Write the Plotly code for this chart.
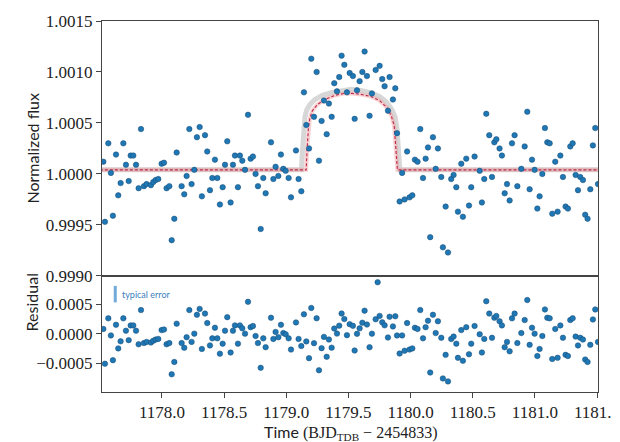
import numpy as np
import plotly.graph_objects as go
from plotly.subplots import make_subplots

# ---------------- data ----------------
time = [
    1177.528, 1177.541, 1177.568, 1177.589, 1177.605, 1177.630, 1177.648, 1177.667, 1177.689, 1177.710,
    1177.732, 1177.748, 1177.769, 1177.791, 1177.812, 1177.831, 1177.855, 1177.876, 1177.911, 1177.930,
    1177.949, 1177.970, 1177.997, 1178.016, 1178.037, 1178.059, 1178.078, 1178.099, 1178.118, 1178.158,
    1178.179, 1178.198, 1178.220, 1178.238, 1178.260, 1178.281, 1178.303, 1178.321, 1178.346, 1178.364,
    1178.386, 1178.405, 1178.426, 1178.445, 1178.466, 1178.488, 1178.507, 1178.525, 1178.552, 1178.571,
    1178.587, 1178.611, 1178.627, 1178.646, 1178.668, 1178.692, 1178.713, 1178.732, 1178.753, 1178.772,
    1178.794, 1178.815, 1178.834, 1178.877, 1178.896, 1178.914, 1178.936, 1178.957, 1178.976, 1178.995,
    1179.019, 1179.038, 1179.078, 1179.099, 1179.121, 1179.142, 1179.161, 1179.183, 1179.201, 1179.223,
    1179.244, 1179.263, 1179.284, 1179.303, 1179.325, 1179.343, 1179.365, 1179.386, 1179.408, 1179.426,
    1179.445, 1179.467, 1179.488, 1179.510, 1179.536, 1179.550, 1179.569, 1179.590, 1179.612, 1179.630,
    1179.649, 1179.670, 1179.689, 1179.719, 1179.735, 1179.751, 1179.772, 1179.791, 1179.818, 1179.831,
    1179.858, 1179.877, 1179.891, 1179.912, 1179.932, 1179.952, 1179.972, 1179.992, 1180.014, 1180.035,
    1180.056, 1180.078, 1180.100, 1180.121, 1180.140, 1180.158, 1180.180, 1180.202, 1180.220, 1180.247,
    1180.260, 1180.282, 1180.301, 1180.327, 1180.346, 1180.368, 1180.381, 1180.408, 1180.421, 1180.448,
    1180.470, 1180.488, 1180.515, 1180.556, 1180.574, 1180.593, 1180.609, 1180.633, 1180.655, 1180.674,
    1180.690, 1180.716, 1180.735, 1180.757, 1180.776, 1180.797, 1180.816, 1180.837, 1180.859, 1180.891,
    1180.918, 1180.939, 1180.958, 1180.977, 1180.998, 1181.020, 1181.038, 1181.060, 1181.081, 1181.100,
    1181.119, 1181.140, 1181.164, 1181.183, 1181.205, 1181.226, 1181.247, 1181.266, 1181.285, 1181.304,
    1181.328, 1181.347, 1181.365, 1181.387, 1181.405, 1181.424, 1181.446, 1181.467, 1181.486, 1181.508,
]
flux = [
    1.00012, 0.99953, 1.00030, 1.00001, 0.99959, 1.00019, 0.99979, 0.99991, 1.00030, 1.00009,
    0.99993, 1.00018, 1.00018, 1.00009, 0.99986, 1.00044, 0.99988, 0.99990, 0.99989, 0.99992,
    0.99994, 0.99995, 1.00010, 1.00011, 0.99986, 0.99988, 0.99935, 0.99956, 1.00021, 0.99988,
    0.99980, 0.99998, 1.00044, 0.99990, 1.00004, 1.00036, 1.00046, 0.99978, 1.00038, 1.00022,
    0.99984, 0.99996, 1.00014, 0.99996, 0.99970, 0.99987, 1.00009, 1.00032, 0.99972, 1.00009,
    1.00018, 0.99987, 1.00018, 1.00013, 1.00004, 1.00058, 1.00015, 1.00017, 1.00000, 0.99988,
    0.99946, 0.99996, 0.99981, 1.00031, 0.99995, 1.00007, 0.99998, 1.00019, 1.00005, 1.00003,
    0.99996, 0.99977, 1.00023, 0.99995, 0.99983, 1.00080, 1.00048, 1.00025, 1.00113, 1.00056,
    1.00100, 1.00013, 1.00052, 1.00072, 1.00039, 1.00069, 1.00056, 1.00089, 1.00081, 1.00095,
    1.00116, 1.00107, 1.00080, 1.00099, 1.00096, 1.00054, 1.00082, 1.00091, 1.00100, 1.00120,
    1.00096, 1.00057, 1.00079, 1.00102, 1.00164, 1.00106, 1.00093, 1.00086, 1.00062, 1.00095,
    1.00073, 1.00084, 1.00040, 0.99973, 1.00001, 0.99975, 1.00022, 0.99977, 0.99979, 1.00014,
    1.00012, 1.00044, 0.99996, 1.00015, 1.00026, 0.99938, 1.00036, 1.00005, 1.00025, 0.99997,
    0.99928, 0.99968, 0.99923, 0.99995, 0.99999, 0.99987, 0.99963, 1.00010, 0.99958, 1.00015,
    0.99969, 0.99987, 1.00017, 1.00003, 0.99972, 0.99995, 1.00059, 1.00038, 0.99997, 1.00031,
    1.00034, 1.00025, 1.00018, 0.99981, 0.99990, 0.99974, 1.00030, 1.00038, 0.99988, 1.00005,
    1.00027, 1.00061, 0.99985, 1.00014, 1.00004, 0.99966, 0.99978, 1.00000, 1.00045, 1.00031,
    1.00030, 0.99961, 1.00012, 0.99963, 1.00018, 0.99997, 0.99968, 0.99966, 1.00027, 1.00030,
    0.99999, 0.99984, 0.99997, 0.99994, 0.99960, 0.99956, 0.99985, 1.00028, 1.00045, 0.99990,
]

# median model curve (grey band)
model_time = [1177.50, 1179.122, 1179.130, 1179.140, 1179.150, 1179.165, 1179.190, 1179.230, 1179.290,
              1179.370, 1179.450, 1179.520, 1179.590, 1179.670, 1179.750, 1179.810, 1179.850, 1179.875,
              1179.890, 1179.898, 1179.906, 1179.914, 1181.52]
model_flux = [1.00004, 1.00004, 1.00022, 1.00045, 1.00056, 1.00063, 1.00068, 1.00073, 1.00077,
              1.00080, 1.00082, 1.00083, 1.00082, 1.00080, 1.00076, 1.00070, 1.00063, 1.00056,
              1.00045, 1.00030, 1.00015, 1.00004, 1.00004]

# alternative model (red dashed)
alt_time = [1177.50, 1179.160, 1179.168, 1179.178, 1179.190, 1179.210, 1179.250, 1179.310, 1179.390,
            1179.470, 1179.530, 1179.600, 1179.680, 1179.750, 1179.810, 1179.845, 1179.868, 1179.878,
            1179.886, 1179.894, 1181.52]
alt_flux = [1.00004, 1.00004, 1.00025, 1.00045, 1.00055, 1.00062, 1.00068, 1.00073, 1.00077,
            1.00079, 1.00079, 1.00078, 1.00076, 1.00072, 1.00065, 1.00057, 1.00047, 1.00030,
            1.00015, 1.00004, 1.00004]

# typical error bar indicator
err_time = 1177.624
err_center = 0.00067
err_half = 0.00014
err_label = "typical error"

flux_ticks = [0.9990, 0.9995, 1.0000, 1.0005, 1.0010, 1.0015]
resid_ticks = [-0.0005, 0.0, 0.0005]
resid_ticktext = ["\u22120.0005", "0.0000", "0.0005"]
time_ticks = [1178.0, 1178.5, 1179.0, 1179.5, 1180.0, 1180.5, 1181.0, 1181.5]

# residuals = data - median model
t_arr = np.array(time)
resid = np.array(flux) - np.interp(t_arr, model_time, model_flux)

# ---------------- figure ----------------
BLUE = "#1f77b4"
fig = make_subplots(rows=2, cols=1, shared_xaxes=True, vertical_spacing=0,
                    row_heights=[0.687, 0.313])

fig.add_trace(go.Scatter(x=model_time, y=model_flux, mode="lines",
                         line=dict(color="rgba(150,150,150,0.38)", width=5),
                         hoverinfo="skip", showlegend=False), row=1, col=1)
fig.add_trace(go.Scatter(x=alt_time, y=alt_flux, mode="lines",
                         line=dict(color="rgba(240,140,140,0.40)", width=4),
                         hoverinfo="skip", showlegend=False), row=1, col=1)
fig.add_trace(go.Scatter(x=alt_time, y=alt_flux, mode="lines",
                         line=dict(color="rgb(185,40,80)", width=1.1, dash="3px,2px"),
                         hoverinfo="skip", showlegend=False), row=1, col=1)
fig.add_trace(go.Scatter(x=time, y=flux, mode="markers",
                         marker=dict(color=BLUE, size=5.5, line=dict(color="#174a75", width=0.5)),
                         showlegend=False), row=1, col=1)

fig.add_hline(y=0, line=dict(color="rgb(200,175,160)", width=1.2, dash="5px,3px"), row=2, col=1)
fig.add_trace(go.Scatter(x=time, y=resid, mode="markers",
                         marker=dict(color=BLUE, size=5.5, line=dict(color="#174a75", width=0.5)),
                         showlegend=False), row=2, col=1)
fig.add_trace(go.Scatter(x=[err_time, err_time], y=[err_center - err_half, err_center + err_half],
                         mode="lines", line=dict(color="rgba(90,155,210,0.85)", width=3),
                         showlegend=False), row=2, col=1)
fig.add_annotation(x=err_time + 0.035, y=err_center, xref="x2", yref="y2", text=err_label,
                   showarrow=False, xanchor="left", yanchor="middle",
                   font=dict(family="Lato", size=9, color="#3d7fbf"))

tickfont = dict(family="Liberation Serif", size=17, color="#222")
axis_common = dict(showline=True, linecolor="#444", linewidth=1, mirror=True, automargin=False,
                   showgrid=False, zeroline=False, tickcolor="#444", ticklen=5, tickwidth=1,
                   ticklabeloverflow="allow")

fig.update_xaxes(**axis_common, range=[1177.5173, 1181.508])
fig.update_xaxes(showticklabels=False, ticks="", row=1, col=1)
fig.update_xaxes(ticks="outside", tickvals=time_ticks, ticktext=[f"{v:.1f}" for v in time_ticks],
                 tickfont=tickfont, row=2, col=1)
fig.update_yaxes(**axis_common)
fig.update_yaxes(range=[0.9990, 1.0015], ticks="outside", tickvals=flux_ticks,
                 ticktext=[f"{v:.4f}" for v in flux_ticks], tickfont=tickfont, row=1, col=1)
fig.update_yaxes(range=[-0.00099, 0.00098], ticks="outside", tickvals=resid_ticks,
                 ticktext=resid_ticktext, tickfont=tickfont, row=2, col=1)

titlefont = dict(family="Lato", size=16, color="#222")
fig.add_annotation(text="Normalized flux", xref="paper", yref="paper", x=-0.163, y=0.658,
                   textangle=-90, showarrow=False, font=titlefont)
fig.add_annotation(text="Residual", xref="paper", yref="paper", x=-0.165, y=0.157,
                   textangle=-90, showarrow=False, font=titlefont)
fig.add_annotation(text='Time <span style="font-family:Liberation Serif">(BJD<sub>TDB</sub> \u2212 2454833)</span>',
                   xref="paper", yref="paper", x=0.5, y=-0.108, yanchor="middle",
                   showarrow=False, font=titlefont)

# the page adds an 8px body margin, so the figure is sized to fill the remaining window
fig.update_layout(width=612, height=434, margin=dict(l=94, r=22, t=13, b=50),
                  plot_bgcolor="white", paper_bgcolor="white")

fig.write_html("out.html")
